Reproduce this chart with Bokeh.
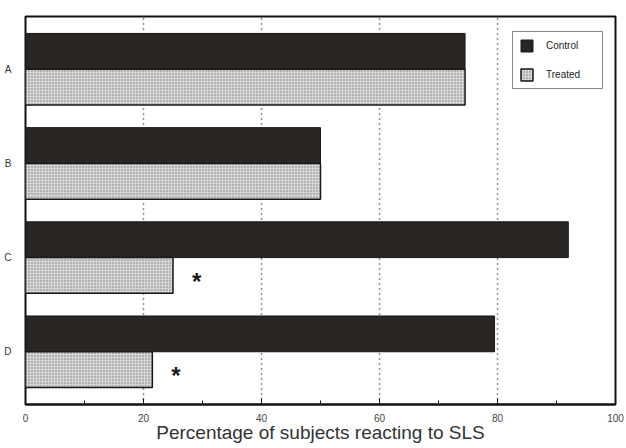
from bokeh.plotting import figure
from bokeh.models import ColumnDataSource, FixedTicker, Legend, LegendItem
from bokeh.core.properties import value
from bokeh.embed import file_html
from bokeh.resources import INLINE

# Reaction rates (%) per subject group
groups = ["A", "B", "C", "D"]
control = [74.5, 50, 92, 79.5]
treated = [74.5, 50, 25, 21.5]
significant = [False, False, True, True]
x_ticks = [0, 20, 40, 60, 80, 100]

ypos = [4, 3, 2, 1]
offset = 0.19
bar_h = 0.38

src = ColumnDataSource(dict(
    y_ctrl=[y + offset for y in ypos],
    y_trt=[y - offset for y in ypos],
    control=control,
    treated=treated,
))

p = figure(width=626, height=448, x_range=(0, 100), y_range=(0.44, 4.56),
           output_backend="svg", toolbar_location=None,
           min_border_left=25, min_border_right=11, min_border_top=16,
           min_border_bottom=44, background_fill_color="white",
           border_fill_color="white")

r_ctrl = p.hbar(y="y_ctrl", right="control", left=0, height=bar_h, source=src,
                fill_color="#2a2624", line_color="#1a1715", line_width=1)
r_trt = p.hbar(y="y_trt", right="treated", left=0, height=bar_h, source=src,
               fill_color="#d6d6d6", line_color="#1a1715", line_width=1.5,
               hatch_pattern="dot", hatch_scale=3, hatch_color="#7a7a7a",
               hatch_weight=1)

# Significance markers next to the treated bars
star_x = [t + 4 for t, s in zip(treated, significant) if s]
star_y = [y - offset for y, s in zip(ypos, significant) if s]
p.text(x=star_x, y=star_y, text=["*"] * len(star_x), text_font=value("Liberation Sans"),
       text_font_size="24px", text_font_style="bold", text_align="center",
       text_baseline="middle", text_color="#1a1715", y_offset=6)

# Frame and grid
p.outline_line_color = "#111111"
p.outline_line_width = 2
p.xgrid.ticker = FixedTicker(ticks=[20, 40, 60, 80])
p.xgrid.grid_line_color = "#222222"
p.xgrid.grid_line_dash = "1 4"
p.xgrid.grid_line_width = 1.5
p.ygrid.grid_line_color = None

# x axis
p.xaxis.ticker = FixedTicker(ticks=x_ticks, minor_ticks=[10, 30, 50, 70, 90])
p.xaxis.axis_line_color = "#111111"
p.xaxis.axis_line_width = 2
p.xaxis.major_tick_in = 6
p.xaxis.major_tick_out = 0
p.xaxis.minor_tick_in = 4
p.xaxis.minor_tick_out = 0
p.xaxis.major_tick_line_color = "#111111"
p.xaxis.minor_tick_line_color = "#111111"
p.xaxis.major_label_text_font = "Liberation Sans"
p.xaxis.major_label_text_font_size = "10px"
p.xaxis.major_label_text_color = "#444444"
p.xaxis.major_label_standoff = 9
p.xaxis.axis_label = "Percentage of subjects reacting to SLS"
p.xaxis.axis_label_text_font = "Liberation Sans"
p.xaxis.axis_label_text_font_size = "19px"
p.xaxis.axis_label_text_font_style = "normal"
p.xaxis.axis_label_text_color = "#333333"
p.xaxis.axis_label_standoff = -3

# y axis: group letters only
p.yaxis.ticker = FixedTicker(ticks=ypos)
p.yaxis.major_label_overrides = {y: g for y, g in zip(ypos, groups)}
p.yaxis.axis_line_color = None
p.yaxis.major_tick_line_color = None
p.yaxis.minor_tick_line_color = None
p.yaxis.major_label_text_font = "Liberation Sans"
p.yaxis.major_label_text_font_size = "10px"
p.yaxis.major_label_text_color = "#333333"
p.yaxis.major_label_standoff = 8

legend = Legend(items=[LegendItem(label="Control", renderers=[r_ctrl]),
                       LegendItem(label="Treated", renderers=[r_trt])],
                location=(487, 315), orientation="vertical")
legend.border_line_color = "#111111"
legend.border_line_width = 1.5
legend.background_fill_alpha = 1
legend.label_text_font = "Liberation Sans"
legend.label_text_font_size = "10px"
legend.label_text_color = "#222222"
legend.glyph_width = 15
legend.glyph_height = 15
legend.label_height = 15
legend.label_width = 50
legend.spacing = 14
legend.padding = 6
legend.margin = 0
legend.label_standoff = 12
p.add_layout(legend)

open("out.html", "w").write(file_html(p, INLINE))
